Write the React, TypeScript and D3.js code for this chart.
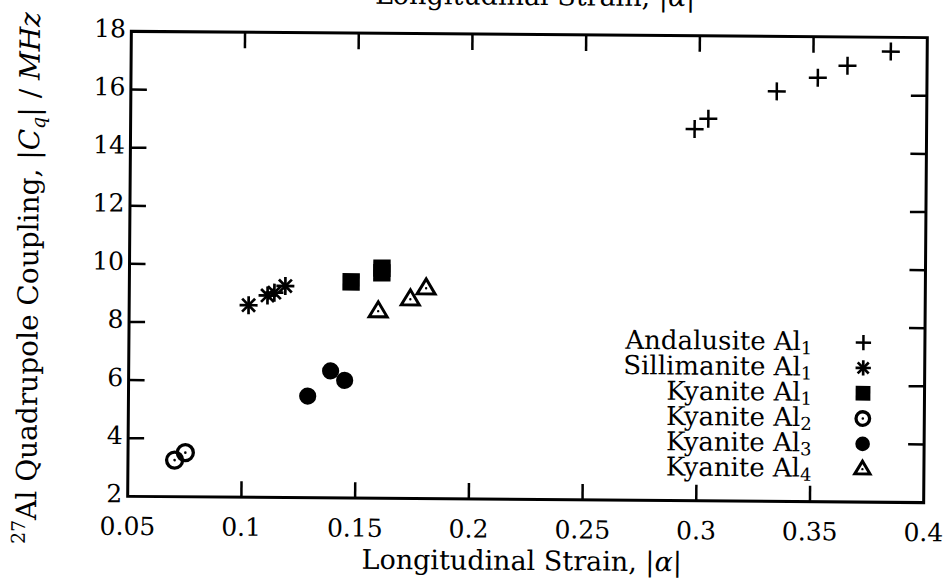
import React from 'react';
import * as d3 from 'd3';

// ---- data ----
const andalusiteX = [0.298, 0.304, 0.334, 0.352, 0.365, 0.384];
const andalusiteY = [14.79, 15.15, 16.11, 16.59, 17.01, 17.51];
const sillimaniteX = [0.1025, 0.1108, 0.1138, 0.1186];
const sillimaniteY = [8.61, 8.95, 9.05, 9.28];
const kyaniteAl1X = [0.1475, 0.161, 0.161];
const kyaniteAl1Y = [9.44, 9.76, 9.92];
const kyaniteAl2X = [0.0705, 0.0752];
const kyaniteAl2Y = [3.26, 3.52];
const kyaniteAl3X = [0.1288, 0.1388, 0.145];
const kyaniteAl3Y = [5.5, 6.37, 6.05];
const kyaniteAl4X = [0.1595, 0.1736, 0.1805];
const kyaniteAl4Y = [8.44, 8.86, 9.24];

const seriesNames = ['Andalusite', 'Sillimanite', 'Kyanite', 'Kyanite', 'Kyanite', 'Kyanite'];
const seriesSubs = ['1', '1', '1', '2', '3', '4'];
const seriesShapes = ['plus', 'star', 'square', 'ocircle', 'fcircle', 'triangle'];

const xTicks = [0.05, 0.1, 0.15, 0.2, 0.25, 0.3, 0.35, 0.4];
const xTickLabels = ['0.05', '0.1', '0.15', '0.2', '0.25', '0.3', '0.35', '0.4'];
const yTicks = [2, 4, 6, 8, 10, 12, 14, 16, 18];
const yTickLabels = ['2', '4', '6', '8', '10', '12', '14', '16', '18'];

const FONT = '"DejaVu Serif", serif';

function Marker({ shape, cx, cy, s = 1 }: { shape: string; cx: number; cy: number; s?: number }) {
  const h = 9 * s;
  switch (shape) {
    case 'plus':
      return (
        <g stroke="#000" strokeWidth={2.5}>
          <line x1={cx - h} y1={cy} x2={cx + h} y2={cy} />
          <line x1={cx} y1={cy - h} x2={cx} y2={cy + h} />
        </g>
      );
    case 'star': {
      const d = h * 0.72;
      return (
        <g stroke="#000" strokeWidth={2.7}>
          <line x1={cx - h} y1={cy} x2={cx + h} y2={cy} />
          <line x1={cx} y1={cy - h} x2={cx} y2={cy + h} />
          <line x1={cx - d} y1={cy - d} x2={cx + d} y2={cy + d} />
          <line x1={cx - d} y1={cy + d} x2={cx + d} y2={cy - d} />
        </g>
      );
    }
    case 'square': {
      const a = 8.7 * s;
      return <rect x={cx - a} y={cy - a} width={2 * a} height={2 * a} fill="#000" />;
    }
    case 'ocircle':
      return (
        <g>
          <circle cx={cx} cy={cy} r={8 * s} fill="none" stroke="#000" strokeWidth={3.3} />
          <circle cx={cx} cy={cy} r={1.3} fill="#000" />
        </g>
      );
    case 'fcircle':
      return <circle cx={cx} cy={cy} r={8.6 * s} fill="#000" />;
    case 'triangle': {
      const w = 9 * s;
      const th = 7.5 * s;
      return (
        <g>
          <path
            d={`M${cx - w},${cy + th * 0.75}L${cx + w},${cy + th * 0.75}L${cx},${cy - th * 1.25}Z`}
            fill="none"
            stroke="#000"
            strokeWidth={3}
            strokeLinejoin="miter"
          />
          <circle cx={cx} cy={cy} r={1.2} fill="#000" />
        </g>
      );
    }
    default:
      return null;
  }
}

export default function App() {
  const W = 943;
  const H = 584;
  const left = 129.5;
  const right = 925.5;
  const top = 34.5;
  const bottom = 499.5;
  const x = d3.scaleLinear().domain([0.05, 0.4]).range([left, right]);
  const y = d3.scaleLinear().domain([2, 18]).range([bottom, top]);

  const allX = [andalusiteX, sillimaniteX, kyaniteAl1X, kyaniteAl2X, kyaniteAl3X, kyaniteAl4X];
  const allY = [andalusiteY, sillimaniteY, kyaniteAl1Y, kyaniteAl2Y, kyaniteAl3Y, kyaniteAl4Y];

  const tickLen = 16;
  const legendRight = 813;
  const legendSymX = 864;
  const legendBase0 = 348;
  const legendStep = 25.3;

  return (
    <svg
      width={W}
      height={H}
      viewBox={`0 0 ${W} ${H}`}
      style={{ position: 'absolute', left: 0, top: 0, background: '#fff' }}
      fontFamily={FONT}
    >
      <rect x={0} y={0} width={W} height={H} fill="#fff" />
      <g transform="rotate(0.45, 527.5, 267)">
        {/* clipped title from the previous panel */}
        <text x={533} y={5} textAnchor="middle" fontSize={27} fill="#000">
          Longitudinal Strain, |<tspan fontStyle="italic">α</tspan>|
        </text>

        {/* ticks (mirrored on all sides) */}
        <g stroke="#000" strokeWidth={2.5}>
          {xTicks.slice(1, -1).map((t, i) => (
            <g key={'xt' + i}>
              <line x1={x(t)} x2={x(t)} y1={bottom} y2={bottom - tickLen} />
              <line x1={x(t)} x2={x(t)} y1={top} y2={top + tickLen} />
            </g>
          ))}
          {yTicks.slice(1, -1).map((t, i) => (
            <g key={'yt' + i}>
              <line x1={left} x2={left + tickLen} y1={y(t)} y2={y(t)} />
              <line x1={right} x2={right - tickLen} y1={y(t)} y2={y(t)} />
            </g>
          ))}
        </g>

        {/* frame */}
        <rect x={left} y={top} width={right - left} height={bottom - top} fill="none" stroke="#000" strokeWidth={3} />

        {/* tick labels */}
        {xTicks.map((t, i) => (
          <text key={'xl' + i} x={x(t)} y={538} textAnchor="middle" fontSize={25} fill="#000">
            {xTickLabels[i]}
          </text>
        ))}
        {yTicks.map((t, i) => (
          <text key={'yl' + i} x={124} y={y(t) - 3} dy="0.36em" textAnchor="end" fontSize={25} fill="#000">
            {yTickLabels[i]}
          </text>
        ))}

        {/* axis labels */}
        <text x={524} y={570} textAnchor="middle" fontSize={27} fill="#000">
          Longitudinal Strain, |<tspan fontStyle="italic">α</tspan>|
        </text>
        <text
          transform={`translate(38, 282) rotate(-90)`}
          textAnchor="middle"
          fontSize={28}
          fill="#000"
        >
          <tspan fontSize={19} dy={-11}>27</tspan>
          <tspan dy={11}>Al Quadrupole Coupling, |</tspan>
          <tspan fontStyle="italic">C</tspan>
          <tspan fontStyle="italic" fontSize={19} dy={6}>q</tspan>
          <tspan dy={-6}>|</tspan>
          <tspan> / </tspan>
          <tspan fontStyle="italic">MHz</tspan>
        </text>

        {/* data */}
        {allX.map((xs, si) =>
          xs.map((v, j) => (
            <Marker key={`p${si}-${j}`} shape={seriesShapes[si]} cx={x(v)} cy={y(allY[si][j])} />
          ))
        )}

        {/* legend */}
        {seriesNames.map((n, i) => {
          const base = legendBase0 + i * legendStep;
          return (
            <g key={'lg' + i}>
              <text x={legendRight} y={base} textAnchor="end" fontSize={26} fill="#000">
                {n} Al
                <tspan fontSize={18} dy={4}>{seriesSubs[i]}</tspan>
              </text>
              <Marker shape={seriesShapes[i]} cx={legendSymX} cy={base - 8} s={0.85} />
            </g>
          );
        })}
      </g>
    </svg>
  );
}
